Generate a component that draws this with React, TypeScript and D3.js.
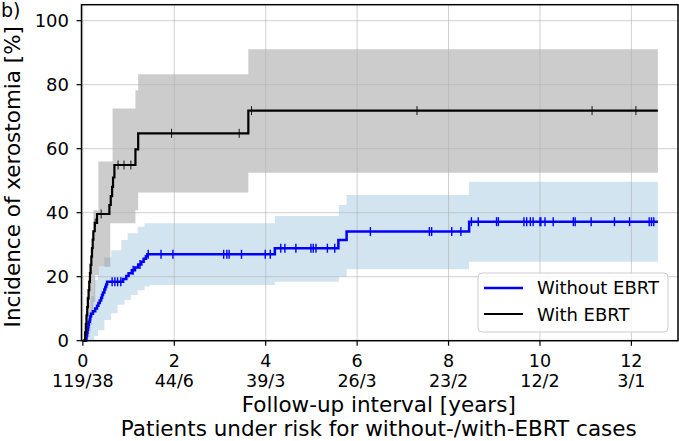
import React from 'react';
import * as d3 from 'd3';

// Cumulative incidence, with EBRT (event times in years, incidence in %)
const withEventTimes = [0.05, 0.065, 0.08, 0.095, 0.11, 0.125, 0.14, 0.155, 0.17, 0.185, 0.2, 0.215, 0.23, 0.26, 0.31, 0.58, 0.61, 0.64, 0.66, 0.69, 1.15, 1.21, 3.62];
const withIncidence = [2.6, 5.3, 7.9, 10.5, 13.2, 15.8, 18.4, 21.1, 23.7, 26.3, 28.9, 31.6, 34.2, 36.8, 39.6, 42.4, 45.2, 48.1, 51.0, 54.9, 59.8, 64.8, 71.9];
const withCensored = [0.27, 0.4, 0.77, 0.9, 1.05, 1.94, 3.42, 3.69, 7.31, 11.14, 12.1];
const withBandTimes = [0, 0.05, 0.08, 0.11, 0.14, 0.17, 0.2, 0.23, 0.27, 0.34, 0.6, 0.65, 1.15, 1.21, 3.62];
const withBandLow = [0, 0, 0, 1, 3, 5, 8, 12, 20.5, 23.1, 36.7, 36.7, 40.8, 46.3, 52.5];
const withBandHigh = [0, 8, 14, 19, 24, 29, 34, 40.8, 40.8, 56, 56, 72.6, 78.3, 83.3, 91.1];

// Cumulative incidence, without EBRT
const withoutEventTimes = [0.07, 0.08, 0.09, 0.1, 0.11, 0.12, 0.13, 0.15, 0.16, 0.18, 0.22, 0.27, 0.31, 0.34, 0.37, 0.4, 0.42, 0.44, 0.47, 0.49, 0.51, 0.53, 0.88, 0.95, 1.0, 1.07, 1.14, 1.21, 1.28, 1.33, 1.38, 1.41, 4.2, 5.59, 5.77, 8.45];
const withoutIncidence = [0.8, 1.7, 2.5, 3.4, 4.2, 5.0, 5.9, 6.7, 7.6, 8.4, 9.2, 10.1, 10.9, 11.8, 12.6, 13.4, 14.3, 15.1, 16.0, 16.8, 17.6, 18.4, 19.3, 20.2, 21.1, 22.0, 22.9, 23.8, 24.7, 25.6, 26.4, 27.0, 28.9, 31.5, 34.1, 37.2];
const withoutCensored = [0.64, 0.7, 0.76, 0.83, 1.1, 1.25, 1.43, 1.71, 1.97, 3.08, 3.15, 3.2, 3.47, 3.99, 4.1, 4.33, 4.42, 4.66, 4.99, 5.04, 5.1, 5.35, 5.51, 6.29, 7.58, 7.63, 8.07, 8.27, 8.5, 8.65, 9.05, 9.09, 9.65, 9.71, 9.79, 9.85, 10.0, 10.02, 10.11, 10.29, 10.73, 10.77, 11.12, 11.63, 11.96, 12.39, 12.44, 12.49];
const withoutBandTimes = [0, 0.07, 0.12, 0.18, 0.25, 0.33, 0.47, 0.62, 0.76, 0.84, 0.91, 0.98, 1.05, 1.2, 1.35, 1.46, 4.2, 5.6, 5.77, 8.45];
const withoutBandLow = [0, 0, 0, 0, 1.5, 3.3, 6.5, 8.6, 11.2, 11.2, 12.7, 12.7, 14.3, 15.8, 16.9, 17.4, 18.4, 20, 22.3, 24.7];
const withoutBandHigh = [0, 4, 9, 14, 19, 23, 26, 28.3, 28.3, 31.5, 31.5, 33.6, 33.6, 35.6, 36.7, 36.7, 39, 42.4, 45.5, 49.7];

const followUpEnd = 12.58;

const xTicks = [0, 2, 4, 6, 8, 10, 12];
const atRisk = ['119/38', '44/6', '39/3', '26/3', '23/2', '12/2', '3/1'];
const yTicks = [0, 20, 40, 60, 80, 100];

const W = 679;
const H = 441;
const plot = { left: 81.5, right: 678, top: 4.7, bottom: 340.7 };
const font = '"DejaVu Sans", sans-serif';
const tickSize = 17.5;
const labelSize = 21.5;

const x = d3.scaleLinear().domain([-0.03, 13.02]).range([plot.left, plot.right]);
const y = d3.scaleLinear().domain([0, 105]).range([plot.bottom, plot.top]);

function stepPoints(times: number[], values: number[]): [number, number][] {
  const pts: [number, number][] = [[0, 0]];
  times.forEach((t, i) => pts.push([t, values[i]]));
  pts.push([followUpEnd, values[values.length - 1]]);
  return pts;
}

function bandPoints(times: number[], lo: number[], hi: number[]) {
  const pts = times.map((t, i) => ({ t, lo: lo[i], hi: hi[i] }));
  pts.push({ t: followUpEnd, lo: lo[lo.length - 1], hi: hi[hi.length - 1] });
  return pts;
}

function valueAt(times: number[], values: number[], t: number) {
  const i = d3.bisectRight(times, t);
  return i === 0 ? 0 : values[i - 1];
}

const line = d3.line<[number, number]>()
  .x(d => x(d[0]))
  .y(d => y(d[1]))
  .curve(d3.curveStepAfter);

const band = d3.area<{ t: number; lo: number; hi: number }>()
  .x(d => x(d.t))
  .y0(d => y(d.lo))
  .y1(d => y(d.hi))
  .curve(d3.curveStepAfter);

function Censors({ times, values, marks, color, width }: any) {
  return (
    <g stroke={color} strokeWidth={width}>
      {marks.map((t: number, i: number) => {
        const cy = y(valueAt(times, values, t));
        return <line key={i} x1={x(t)} x2={x(t)} y1={cy - 4.5} y2={cy + 4.5} />;
      })}
    </g>
  );
}

export default function App() {
  return (
    <svg
      width={W}
      height={H}
      style={{ position: 'absolute', left: 0, top: 0, background: '#fff' }}
      fontFamily={font}
    >
      <rect width={W} height={H} fill="#fff" />

      {/* confidence bands */}
      <path d={band(bandPoints(withoutBandTimes, withoutBandLow, withoutBandHigh)) || ''} fill="#1f77b4" fillOpacity={0.2} />
      <path d={band(bandPoints(withBandTimes, withBandLow, withBandHigh)) || ''} fill="gray" fillOpacity={0.4} />

      {/* grid */}
      <g stroke="#b0b0b0" strokeOpacity={0.6} strokeWidth={1}>
        {xTicks.map(t => <line key={'gx' + t} x1={x(t)} x2={x(t)} y1={plot.top} y2={plot.bottom} />)}
        {yTicks.map(v => <line key={'gy' + v} x1={plot.left} x2={plot.right} y1={y(v)} y2={y(v)} />)}
      </g>

      {/* incidence curves */}
      <path d={line(stepPoints(withoutEventTimes, withoutIncidence)) || ''} fill="none" stroke="#0000ff" strokeWidth={2.5} />
      <Censors times={withoutEventTimes} values={withoutIncidence} marks={withoutCensored} color="#0000ff" width={1.4} />
      <path d={line(stepPoints(withEventTimes, withIncidence)) || ''} fill="none" stroke="#000" strokeWidth={2.2} />
      <Censors times={withEventTimes} values={withIncidence} marks={withCensored} color="#000" width={0.9} />

      {/* frame */}
      <rect x={plot.left} y={plot.top} width={plot.right - plot.left} height={plot.bottom - plot.top} fill="none" stroke="#000" strokeWidth={1.5} />

      {/* y axis */}
      {yTicks.map(v => (
        <g key={'yt' + v}>
          <line x1={plot.left - 5} x2={plot.left} y1={y(v)} y2={y(v)} stroke="#000" strokeWidth={1.2} />
          <text x={plot.left - 12.5} y={y(v)} dy="0.36em" textAnchor="end" fontSize={18}>{v}</text>
        </g>
      ))}
      <text transform={`translate(19.5, ${(plot.top + plot.bottom) / 2 + 4}) rotate(-90)`} textAnchor="middle" fontSize={labelSize}>
        Incidence of xerostomia [%]
      </text>
      <text x={1} y={17} fontSize={19}>b)</text>

      {/* x axis with patients at risk */}
      {xTicks.map((t, i) => (
        <g key={'xt' + t}>
          <line x1={x(t)} x2={x(t)} y1={plot.bottom} y2={plot.bottom + 5} stroke="#000" strokeWidth={1.2} />
          <text x={x(t)} y={367} textAnchor="middle" fontSize={tickSize}>{t}</text>
          <text x={x(t)} y={387} textAnchor="middle" fontSize={tickSize}>{atRisk[i]}</text>
        </g>
      ))}
      <text x={(plot.left + plot.right) / 2 - 1} y={412} textAnchor="middle" fontSize={labelSize}>Follow-up interval [years]</text>
      <text x={(plot.left + plot.right) / 2 - 1} y={436} textAnchor="middle" fontSize={labelSize}>Patients under risk for without-/with-EBRT cases</text>

      {/* legend */}
      <g>
        <rect x={478} y={273} width={190} height={59} rx={4} fill="#fff" fillOpacity={0.8} stroke="#cccccc" strokeWidth={1} />
        <line x1={484} x2={523} y1={288} y2={288} stroke="#0000ff" strokeWidth={2.5} />
        <text x={537} y={294} fontSize={18}>Without EBRT</text>
        <line x1={484} x2={523} y1={314} y2={314} stroke="#000" strokeWidth={2} />
        <text x={537} y={320.5} fontSize={18}>With EBRT</text>
      </g>
    </svg>
  );
}
